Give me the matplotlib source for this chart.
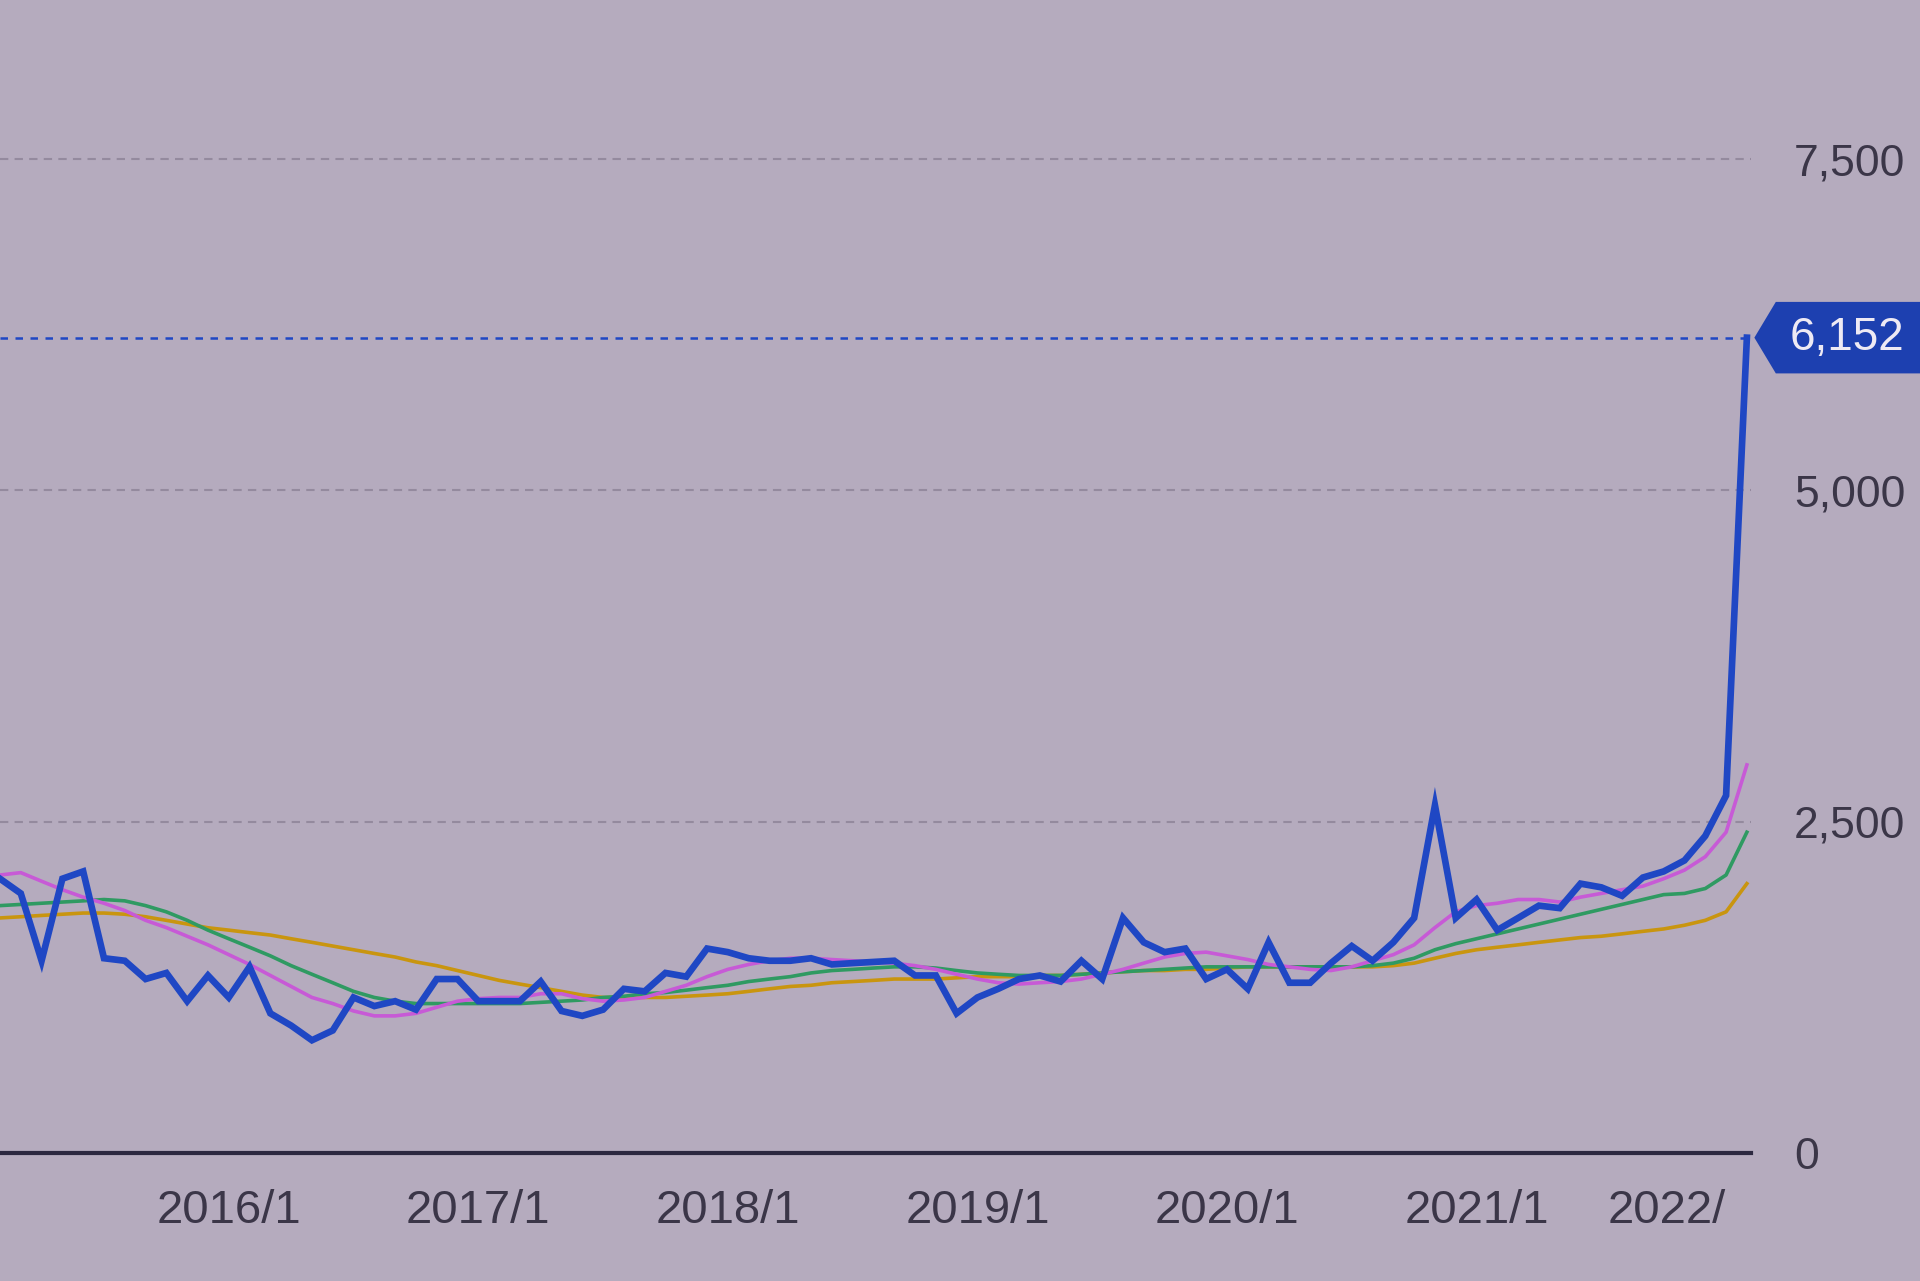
#!/usr/bin/env python3

import numpy as np
import matplotlib.pyplot as plt
from matplotlib.path import Path


##### data (monthly) #####
# index 0 = 2015/2, index 84 = 2022/2
PRICE = [
    2069, 1958, 1450, 2069, 2124, 1469, 1450, 1312, 1358, 1145,
    1339, 1173, 1404, 1053, 961, 850, 924, 1173, 1108, 1145,
    1081, 1312, 1312, 1145, 1145, 1145, 1293, 1071, 1034, 1081,
    1238, 1219, 1358, 1330, 1542, 1515, 1469, 1450, 1450, 1469,
    1422, 1432, 1441, 1450, 1339, 1339, 1053, 1173, 1238, 1312,
    1339, 1293, 1450, 1312, 1773, 1589, 1515, 1542, 1312, 1385,
    1238, 1589, 1284, 1284, 1432, 1561, 1450, 1589, 1773, 2623,
    1773, 1912, 1681, 1773, 1866, 1847, 2032, 2004, 1940, 2078,
    2124, 2207, 2392, 2697, 6152,
]

MA_SHORT = [
    2097, 2115, 2050, 1986, 1930, 1884, 1829, 1755, 1700, 1635,
    1570, 1496, 1422, 1339, 1256, 1173, 1127, 1071, 1034, 1034,
    1053, 1099, 1145, 1164, 1173, 1173, 1201, 1201, 1164, 1145,
    1154, 1173, 1219, 1265, 1330, 1385, 1422, 1450, 1469, 1469,
    1459, 1450, 1441, 1432, 1413, 1385, 1348, 1312, 1284, 1274,
    1284, 1293, 1312, 1348, 1385, 1432, 1478, 1505, 1515, 1487,
    1459, 1422, 1404, 1385, 1376, 1404, 1450, 1496, 1570, 1700,
    1820, 1866, 1884, 1912, 1912, 1893, 1930, 1958, 1986, 2013,
    2069, 2134, 2235, 2420, 2928,
]

MA_MID = [
    1866, 1875, 1884, 1893, 1902, 1912, 1902, 1866, 1819, 1755,
    1681, 1616, 1552, 1487, 1413, 1348, 1284, 1219, 1173, 1145,
    1127, 1127, 1127, 1127, 1127, 1127, 1136, 1145, 1154, 1173,
    1182, 1201, 1210, 1228, 1247, 1265, 1293, 1312, 1330, 1358,
    1376, 1385, 1395, 1404, 1404, 1395, 1376, 1358, 1348, 1339,
    1339, 1339, 1348, 1358, 1367, 1376, 1385, 1395, 1404, 1404,
    1404, 1404, 1404, 1404, 1404, 1404, 1413, 1432, 1469, 1533,
    1579, 1616, 1653, 1690, 1727, 1764, 1801, 1838, 1875, 1912,
    1949, 1958, 1995, 2097, 2420,
]

MA_LONG = [
    1773, 1782, 1792, 1801, 1810, 1810, 1801, 1782, 1755, 1727,
    1699, 1681, 1662, 1644, 1616, 1589, 1561, 1533, 1505, 1478,
    1441, 1413, 1376, 1339, 1302, 1274, 1247, 1219, 1191, 1173,
    1173, 1173, 1173, 1182, 1191, 1201, 1219, 1238, 1256, 1265,
    1284, 1293, 1302, 1312, 1312, 1312, 1321, 1330, 1330, 1330,
    1339, 1339, 1348, 1358, 1367, 1376, 1376, 1385, 1385, 1395,
    1404, 1404, 1404, 1404, 1404, 1404, 1404, 1413, 1432, 1469,
    1505, 1533, 1552, 1570, 1589, 1607, 1625, 1635, 1653, 1672,
    1690, 1718, 1755, 1819, 2032,
]

X_TICK_POS = [11, 23, 35, 47, 59, 71, 83]
X_TICK_LABELS = ["2016/1", "2017/1", "2018/1", "2019/1", "2020/1", "2021/1", "2022/"]
Y_TICKS = [0, 2500, 5000, 7500]
Y_TICK_LABELS = ["0", "2,500", "5,000", "7,500"]
LAST_LABEL = "6,152"


##### style #####
BG = "#b5abbe"
TEXT = "#3b3648"
BLUE = "#1f47c4"
PINK = "#c75ad6"
GREEN = "#2f9a62"
ORANGE = "#c9950f"
GRID = "#948a9e"

plt.rcParams["font.family"] = ["Liberation Sans", "DejaVu Sans"]


##### helper functions #####
def tag_box(x0, y0, width, height, mutation_size):
    # flat box with a short point on the left, runs off to the right
    pad = mutation_size * 0.3
    x0 = x0 - pad
    y0 = y0 - pad
    x1 = x0 + width + 2 * pad + 200
    y1 = y0 + height + 2 * pad
    tip = (y1 - y0) * 0.3
    verts = [(x0, y0), (x1, y0), (x1, y1), (x0, y1),
             (x0 - tip, (y0 + y1) / 2), (x0, y0)]
    return Path(verts, closed=True)


def plot_chart():
    x = np.arange(len(PRICE))

    fig = plt.figure(figsize=(19.2, 12.81), dpi=100)
    fig.patch.set_facecolor(BG)
    ax = fig.add_axes([0.0, 0.1, 0.912, 0.9])
    ax.set_facecolor(BG)

    # grid lines
    for yv in Y_TICKS[1:]:
        ax.axhline(yv, color=GRID, linewidth=1.5, linestyle=(0, (4, 3)), zorder=1)

    # moving averages
    ax.plot(x, MA_LONG, color=ORANGE, linewidth=2.6, zorder=2)
    ax.plot(x, MA_MID, color=GREEN, linewidth=2.6, zorder=3)
    ax.plot(x, MA_SHORT, color=PINK, linewidth=2.6, zorder=4)

    # price line
    ax.plot(x, PRICE, color=BLUE, linewidth=4.8, zorder=5,
            solid_joinstyle="miter")

    # last value line and tag
    last = PRICE[-1]
    ax.axhline(last, color=BLUE, linewidth=1.8, linestyle=(0, (3, 3)), zorder=2)
    ax.text(1.022, last, LAST_LABEL, transform=ax.get_yaxis_transform(),
            ha="left", va="center", fontsize=33, color="#eeeaf4",
            bbox=dict(boxstyle=tag_box, fc="#1d40b0", ec="none"),
            clip_on=False)

    ax.set_xlim(0, 84.2)
    ax.set_ylim(0, 8700)

    for s in ["top", "left", "right"]:
        ax.spines[s].set_visible(False)
    ax.spines["bottom"].set_color("#2c2840")
    ax.spines["bottom"].set_linewidth(3)

    ax.set_xticks(X_TICK_POS)
    ax.set_xticklabels(X_TICK_LABELS)
    ax.tick_params(axis="x", length=0, pad=26, labelsize=34, labelcolor=TEXT)
    ax.get_xticklabels()[-1].set_horizontalalignment("right")

    ax.yaxis.tick_right()
    ax.set_yticks(Y_TICKS)
    ax.set_yticklabels(Y_TICK_LABELS)
    ax.tick_params(axis="y", length=0, pad=31, labelsize=32, labelcolor=TEXT)

    plt.savefig("out.png", dpi=100, facecolor=BG)
    plt.close()


if __name__ == "__main__":
    plot_chart()
